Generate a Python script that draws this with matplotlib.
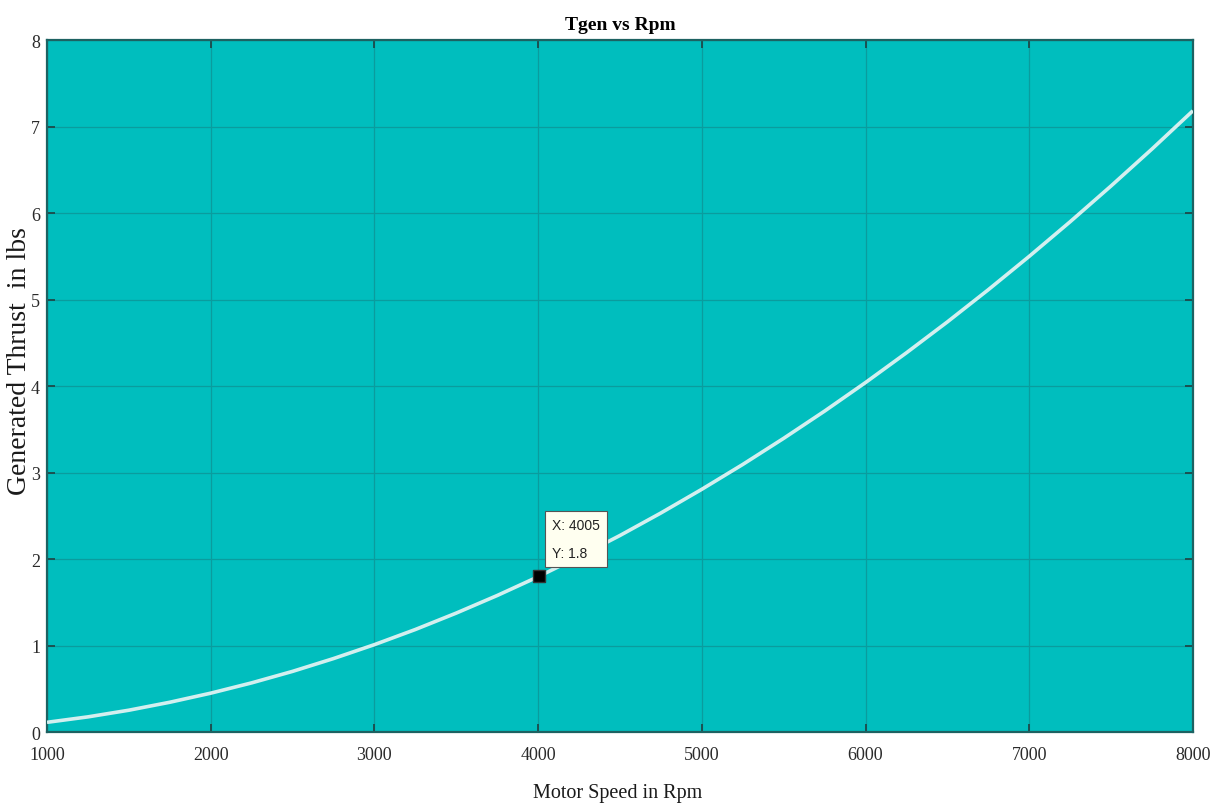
import matplotlib
matplotlib.use("Agg")
import matplotlib.pyplot as plt

# Motor speed (rpm) and generated thrust (lbs)
rpm = [1000, 1250, 1500, 1750, 2000, 2250, 2500, 2750, 3000, 3250, 3500,
       3750, 4000, 4250, 4500, 4750, 5000, 5250, 5500, 5750, 6000, 6250,
       6500, 6750, 7000, 7250, 7500, 7750, 8000]
thrust = [0.112, 0.175, 0.252, 0.344, 0.449, 0.568, 0.701, 0.849, 1.010,
          1.185, 1.375, 1.578, 1.795, 2.027, 2.272, 2.532, 2.806, 3.093,
          3.395, 3.710, 4.040, 4.384, 4.741, 5.113, 5.499, 5.899, 6.313,
          6.740, 7.182]

tip_x, tip_y = 4005, 1.8

xticks = [1000, 2000, 3000, 4000, 5000, 6000, 7000, 8000]
yticks = [0, 1, 2, 3, 4, 5, 6, 7, 8]

fig = plt.figure(figsize=(12.21, 8.04), dpi=100)
ax = fig.add_axes([0.0385, 0.0883, 0.9385, 0.8607])
ax.set_facecolor("#00BEBE")

ax.plot(rpm, thrust, color="#D3EFEF", linewidth=2.6, solid_capstyle="butt", zorder=3)

ax.set_xlim(1000, 8000)
ax.set_ylim(0, 8)
ax.set_xticks(xticks)
ax.set_yticks(yticks)
ax.grid(True, color="#0A9C9E", linewidth=0.9)
ax.set_axisbelow(True)

for s in ax.spines.values():
    s.set_color("#1D6262")
    s.set_linewidth(1.6)

serif = "Liberation Serif"
ax.tick_params(direction="in", length=6, width=1.3, color="#1D4A4A",
               labelsize=13, top=True, right=True, labeltop=False, labelright=False)
ax.tick_params(axis="x", pad=10)
ax.tick_params(axis="y", pad=5)
for lab in ax.get_xticklabels() + ax.get_yticklabels():
    lab.set_fontfamily(serif)
    lab.set_color("#2A2A2A")

ax.set_title("Tgen vs Rpm", fontfamily=serif, fontweight="bold", fontsize=14, pad=8)
ax.set_xlabel("Motor Speed in Rpm", fontfamily=serif, fontsize=14.5, color="#1A1A1A")
ax.xaxis.set_label_coords(0.4977, -0.073)
ax.set_ylabel("Generated Thrust  in lbs", fontfamily=serif, fontsize=20, color="#1A1A1A")
ax.yaxis.set_label_coords(-0.0135, 0.537)

# Data tip
ax.plot([tip_x], [tip_y], marker="s", markersize=8, color="black",
        markeredgecolor="#333333", zorder=5)
ax.annotate(f"X: {tip_x}\nY: {tip_y}", xy=(tip_x, tip_y),
            xytext=(13, 16), textcoords="offset pixels",
            fontfamily="Liberation Sans", fontsize=10, color="#222222",
            ha="left", va="bottom", linespacing=2.3,
            bbox=dict(boxstyle="square,pad=0.5", facecolor="#FFFFF0",
                      edgecolor="#555555", linewidth=0.8),
            zorder=6)

fig.savefig("out.png", dpi=100, facecolor="white")
